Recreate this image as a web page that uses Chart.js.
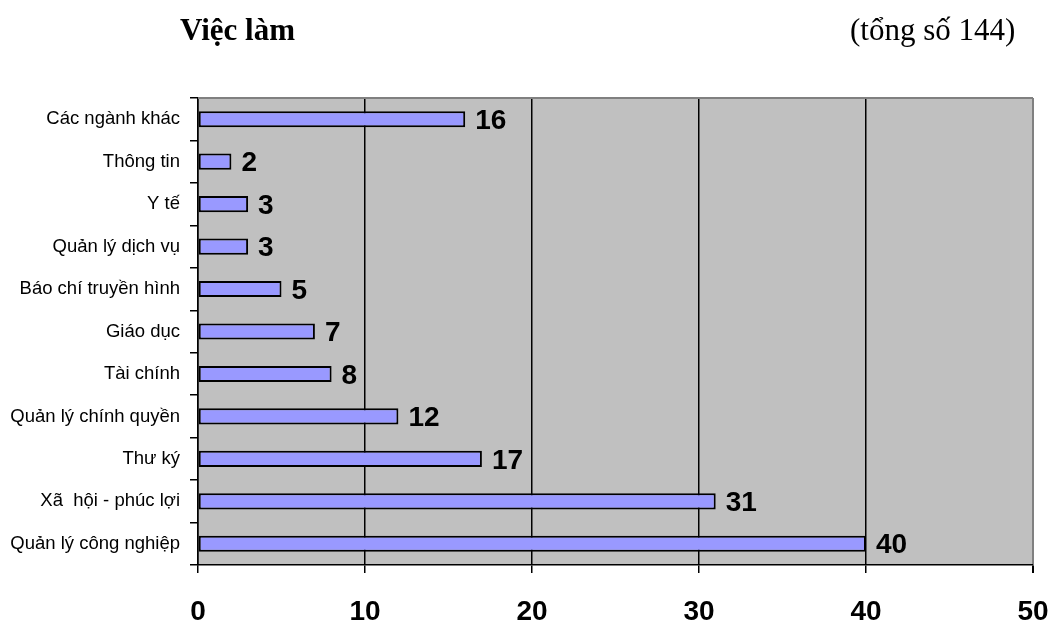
<!DOCTYPE html>
<html>
<head>
<meta charset="utf-8">
<script src="https://cdn.jsdelivr.net/npm/chart.js@4/dist/chart.umd.min.js"></script>
<style>
  html, body { margin: 0; padding: 0; background: #fff; }
  #wrap { position: relative; width: 1053px; height: 628px; }
  canvas { position: absolute; left: 0; top: 0; }
  .ttl { position: absolute; font-family: "Liberation Serif", "Times New Roman", serif; font-size: 31px; color: #000; white-space: nowrap; line-height: 1; }
  #t1 { left: 180px; top: 14px; font-weight: bold; }
  #t2 { left: 850px; top: 14px; }
</style>
</head>
<body>
<div id="wrap">
  <canvas id="c" width="1053" height="628"></canvas>
  <div class="ttl" id="t1">Việc làm</div>
  <div class="ttl" id="t2">(tổng số 144)</div>
</div>
<script>
// Occupations, listed top to bottom
const categories = [
  'Các ngành khác', 'Thông tin', 'Y tế', 'Quản lý dịch vụ', 'Báo chí truyền hình',
  'Giáo dục', 'Tài chính', 'Quản lý chính quyền', 'Thư ký', 'Xã  hội - phúc lợi',
  'Quản lý công nghiệp'
];
const counts = [16, 2, 3, 3, 5, 7, 8, 12, 17, 31, 40];
const xTicks = [0, 10, 20, 30, 40, 50];

// Grey plot background with grey top border
const plotFrame = {
  id: 'plotFrame',
  beforeDraw(chart) {
    const { ctx, chartArea: a } = chart;
    ctx.save();
    ctx.fillStyle = '#C0C0C0';
    ctx.fillRect(a.left, a.top, a.right - a.left, a.bottom - a.top);
    ctx.restore();
  },
  afterDraw(chart) {
    const { ctx, chartArea: a } = chart;
    ctx.save();
    ctx.strokeStyle = '#808080';
    ctx.lineWidth = 2;
    ctx.beginPath();
    ctx.moveTo(a.left, a.top);
    ctx.lineTo(a.right, a.top);
    ctx.stroke();
    ctx.restore();
  }
};

// Value labels to the right of each bar
const valueLabels = {
  id: 'valueLabels',
  afterDatasetsDraw(chart) {
    const { ctx } = chart;
    const meta = chart.getDatasetMeta(0);
    ctx.save();
    ctx.font = 'bold 28px "Liberation Sans", Arial, sans-serif';
    ctx.fillStyle = '#000';
    ctx.textAlign = 'left';
    ctx.textBaseline = 'middle';
    meta.data.forEach((bar, i) => {
      ctx.fillText(String(counts[i]), bar.x + 10, bar.y + 2);
    });
    ctx.restore();
  }
};

new Chart(document.getElementById('c'), {
  type: 'bar',
  data: {
    labels: categories,
    datasets: [{
      data: counts,
      backgroundColor: '#9999FF',
      borderColor: '#000',
      borderWidth: 2,
      borderSkipped: false,
      categoryPercentage: 1,
      barPercentage: 0.38
    }]
  },
  options: {
    indexAxis: 'y',
    responsive: false,
    animation: false,
    devicePixelRatio: 1,
    layout: { padding: { top: 98, right: 20, left: 0, bottom: 0 } },
    plugins: { legend: { display: false }, tooltip: { enabled: false } },
    scales: {
      x: {
        type: 'linear',
        min: xTicks[0],
        max: xTicks[xTicks.length - 1],
        afterBuildTicks(scale) { scale.ticks = xTicks.map(v => ({ value: v })); },
        afterFit(scale) {
          scale.height = 63;
          scale.paddingLeft = 0;
          scale.paddingRight = 0;
        },
        border: { display: true, color: '#000', width: 1.5 },
        grid: {
          color: ctx => (ctx.tick && ctx.tick.value === 50) ? '#808080' : '#000',
          lineWidth: ctx => (ctx.tick && ctx.tick.value === 50) ? 2 : 1.5,
          tickColor: '#000',
          tickLength: 8
        },
        ticks: {
          padding: 22,
          color: '#000',
          font: { family: '"Liberation Sans", Arial, sans-serif', size: 28, weight: 'bold' }
        }
      },
      y: {
        type: 'category',
        afterFit(scale) { scale.width = 198; },
        border: { display: true, color: '#000', width: 1.5 },
        grid: {
          offset: true,
          drawOnChartArea: false,
          color: '#000',
          tickColor: '#000',
          lineWidth: 1.5,
          tickLength: 8
        },
        ticks: {
          padding: 10,
          color: '#000',
          font: { family: '"Liberation Sans", Arial, sans-serif', size: 18.5 }
        }
      }
    }
  },
  plugins: [plotFrame, valueLabels]
});
</script>
</body>
</html>
